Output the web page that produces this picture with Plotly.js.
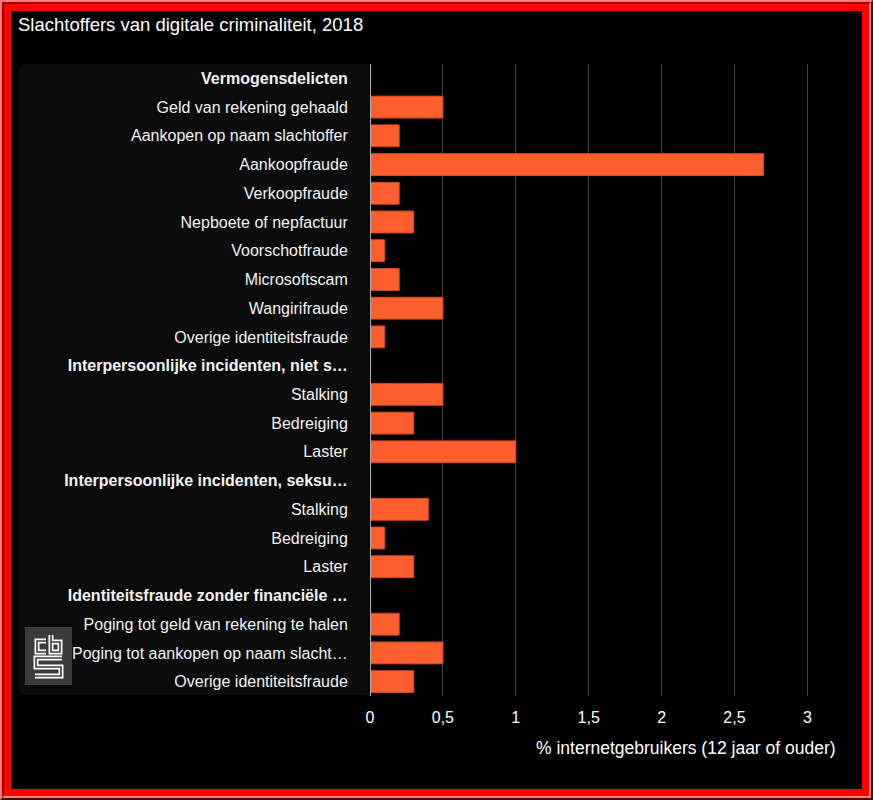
<!DOCTYPE html>
<html>
<head>
<meta charset="utf-8">
<script src="https://cdn.plot.ly/plotly-3.0.1.min.js"></script>
<style>
  html, body { margin: 0; padding: 0; background: #000; }
  #frame { position: absolute; left: 0; top: 0; width: 873px; height: 800px; box-sizing: border-box;
           border-style: solid; border-width: 2px; border-color: #ff7a7a #4a0000 #4a0000 #ff7a7a; }
  #frame2 { position: absolute; left: 0; top: 0; right: 0; bottom: 0; box-sizing: border-box;
           border-style: solid; border-width: 2px; border-color: #a00000 #ff8080 #ff8080 #a00000; }
  #frame3 { position: absolute; left: 0; top: 0; right: 0; bottom: 0; box-sizing: border-box;
           border: 7px solid #ff0000; background: #000; }
  #panel { position: absolute; left: 18px; top: 64px; width: 351px; height: 631px; background: #0b0b0b;
           border-radius: 10px 0 0 10px; }
  #chart { position: absolute; left: 0; top: 0; width: 873px; height: 800px; }
  #logo { position: absolute; left: 25px; top: 627px; width: 47px; height: 58px; }
</style>
</head>
<body>
<div id="frame"><div id="frame2"><div id="frame3"></div></div></div>
<div id="panel"></div>
<div id="chart"></div>
<svg id="logo" viewBox="0 0 47 58" xmlns="http://www.w3.org/2000/svg">
  <rect x="0" y="0" width="47" height="58" fill="#3b3b3b"/>
  <g fill="none" stroke-linejoin="miter" stroke-linecap="butt">
    <path d="M21,14 H12 V25 H21" stroke="#fff" stroke-width="5"/>
    <path d="M26,8 V25 H35 V15 H26" stroke="#fff" stroke-width="5"/>
    <path d="M37,31 H11 V40 H36 V49 H10" stroke="#fff" stroke-width="5"/>
    <path d="M21,14 H12 V25 H21" stroke="#3b3b3b" stroke-width="1.6"/>
    <path d="M26,8 V25 H35 V15 H26" stroke="#3b3b3b" stroke-width="1.6"/>
    <path d="M37,31 H11 V40 H36 V49 H10" stroke="#3b3b3b" stroke-width="1.6"/>
  </g>
</svg>
<script>
const labels = [
  "<b>Vermogensdelicten</b>",
  "Geld van rekening gehaald",
  "Aankopen op naam slachtoffer",
  "Aankoopfraude",
  "Verkoopfraude",
  "Nepboete of nepfactuur",
  "Voorschotfraude",
  "Microsoftscam",
  "Wangirifraude",
  "Overige identiteitsfraude",
  "<b>Interpersoonlijke incidenten, niet s…</b>",
  "Stalking",
  "Bedreiging",
  "Laster",
  "<b>Interpersoonlijke incidenten, seksu…</b>",
  "Stalking",
  "Bedreiging",
  "Laster",
  "<b>Identiteitsfraude zonder financiële …</b>",
  "Poging tot geld van rekening te halen",
  "Poging tot aankopen op naam slacht…",
  "Overige identiteitsfraude"
];
const values = [
  null, 0.5, 0.2, 2.7, 0.2, 0.3, 0.1, 0.2, 0.5, 0.1,
  null, 0.5, 0.3, 1.0,
  null, 0.4, 0.1, 0.3,
  null, 0.2, 0.5, 0.3
];
const xTicks = [0, 0.5, 1, 1.5, 2, 2.5, 3];
const titleText = "Slachtoffers van digitale criminaliteit, 2018";
const xTitle = "% internetgebruikers (12 jaar of ouder)";

const positions = labels.map((_, i) => i);

const trace = {
  type: 'bar',
  orientation: 'h',
  x: values,
  y: positions,
  marker: { color: '#ff5f2e', line: { color: '#d94a1e', width: 1 } },
  hoverinfo: 'skip'
};

const layout = {
  width: 873, height: 800,
  margin: { l: 370, r: 35, t: 64, b: 104 },
  paper_bgcolor: 'rgba(0,0,0,0)',
  plot_bgcolor: 'rgba(0,0,0,0)',
  separators: ',.',
  bargap: 0.24,
  showlegend: false,
  font: { family: 'Liberation Sans, Arial, sans-serif', color: '#ffffff', size: 16 },
  title: {
    text: titleText,
    xref: 'container', yref: 'container',
    x: 18 / 873, xanchor: 'left',
    y: 1 - 25 / 800, yanchor: 'middle',
    font: { size: 18.5, color: '#ffffff', family: 'Liberation Sans, Arial, sans-serif' }
  },
  xaxis: {
    range: [0, 3.21],
    tickvals: xTicks,
    showgrid: true,
    gridcolor: '#444444',
    gridwidth: 1,
    zeroline: false,
    showline: false,
    ticks: '',
    tickfont: { size: 16, color: '#ffffff' },
    ticklabelstandoff: 10,
    fixedrange: true
  },
  yaxis: {
    tickvals: positions,
    ticktext: labels,
    range: [labels.length - 0.5, -0.5],
    showgrid: false,
    zeroline: false,
    showline: false,
    ticks: 'outside',
    ticklen: 18,
    tickcolor: 'rgba(0,0,0,0)',
    tickfont: { size: 16, color: '#f2f2f2' },
    fixedrange: true
  },
  shapes: [
    { type: 'line', xref: 'x', yref: 'paper', x0: 0, x1: 0, y0: 0, y1: 1,
      line: { color: '#b0b0b0', width: 2 } }
  ],
  annotations: [
    { text: xTitle, xref: 'paper', yref: 'paper', x: 1, xanchor: 'right',
      y: -0.082, yanchor: 'middle', showarrow: false,
      font: { size: 17.5, color: '#ffffff' } }
  ]
};

Plotly.newPlot('chart', [trace], layout, { displayModeBar: false, staticPlot: true });
</script>
</body>
</html>
